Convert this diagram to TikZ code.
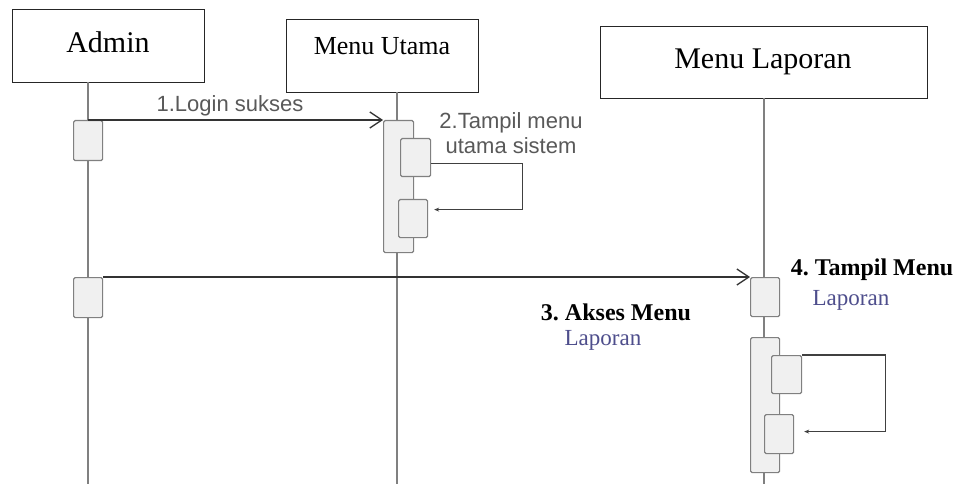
\documentclass[tikz,border=0pt]{standalone}
\usepackage{fontspec}
\setmainfont{Liberation Serif}
\newfontfamily\arialfont{Liberation Sans}
\usetikzlibrary{arrows.meta}
\definecolor{lapblue}{HTML}{4E4E8C}
\frenchspacing
\begin{document}
\begin{tikzpicture}[x=1pt,y=-1pt,
  obj/.style={draw=black!85, line width=1.4pt, fill=white, inner sep=0pt, anchor=north west},
  act/.style={draw=black!50, line width=1.2pt, fill=black!6, rounded corners=1.5pt, inner sep=0pt, anchor=north west},
  life/.style={draw=black!50, line width=1.5pt},
  msg/.style={draw=black!80, line width=1.5pt, -{Straight Barb[length=12pt,width=16pt,line width=1.3pt]}},
  selfmsg/.style={draw=black!75, line width=1.2pt, -{Stealth[length=5pt,width=4pt]}},
  lbl/.style={font=\arialfont\fontsize{22}{25}\selectfont, text=black!65, inner sep=0pt},
  blbl/.style={font=\bfseries\fontsize{24}{26}\selectfont, text=black, inner sep=0pt},
  llbl/.style={font=\fontsize{23}{25}\selectfont, text=lapblue, inner sep=0pt},
  title/.style={inner sep=0pt, text=black}]
\useasboundingbox[fill=white] (0,0) rectangle (962,484);

% objects
\node[obj, minimum width=192pt, minimum height=73pt] (admin) at (12,9) {};
\node[title, font=\fontsize{30}{32}\selectfont] (admint) at (108,42) {Admin};
\node[obj, minimum width=192pt, minimum height=73pt] (utama) at (286,19) {};
\node[title, font=\fontsize{26}{28}\selectfont] (utamat) at (382,46) {Menu Utama};
\node[obj, minimum width=327pt, minimum height=72pt] (lap) at (600,26) {};
\node[title, font=\fontsize{30}{32}\selectfont] (lapt) at (763,62) {Menu Laporan};

% lifelines
\coordinate (atop) at (88,82);   \coordinate (abot) at (88,484);
\coordinate (utop) at (397,92);  \coordinate (ubot) at (397,484);
\coordinate (ltop) at (764,98);  \coordinate (lbot) at (764,484);
\draw[life] (atop) -- (abot);
\draw[life] (utop) -- (ubot);
\draw[life] (ltop) -- (lbot);

% activations
\node[act, minimum width=29pt, minimum height=40pt] (a1) at (73,120) {};
\node[act, minimum width=29pt, minimum height=40pt] (a2) at (73,277) {};
\node[act, minimum width=30pt, minimum height=132pt] (mu) at (383,120) {};
\node[act, minimum width=30pt, minimum height=38pt] (mu1) at (400,138) {};
\node[act, minimum width=29pt, minimum height=38pt] (mu2) at (398,199) {};
\node[act, minimum width=29pt, minimum height=39pt] (ml1) at (750,277) {};
\node[act, minimum width=29pt, minimum height=135pt] (ml) at (750,337) {};
\node[act, minimum width=30pt, minimum height=38pt] (ml2) at (771,355) {};
\node[act, minimum width=29pt, minimum height=39pt] (ml3) at (764,414) {};

% messages
\draw[msg] (a1.north) -- (mu.north west);
\node[lbl] (m1) at (230,106) {1.Login sukses};

\draw[selfmsg] ([yshift=-6pt]mu1.east) -- ++(91,0) |- ([xshift=6pt,yshift=9pt]mu2.east);
\node[lbl, align=center] (m2) at (511,133) {2.Tampil menu\\utama sistem};

\draw[msg] (a2.north east) -- (ml1.north west);
\node[blbl] (m3) at (616,312) {3. Akses Menu};
\node[llbl] (m3b) at (603,340) {Laporan};

\node[blbl] (m4) at (872,270) {4. Tampil Menu};
\node[llbl] (m4b) at (851,300) {Laporan};

\draw[selfmsg] (ml2.north east) -- ++(83,0) |- ([xshift=10pt,yshift=2.5pt]ml3.east);
\end{tikzpicture}
\end{document}
